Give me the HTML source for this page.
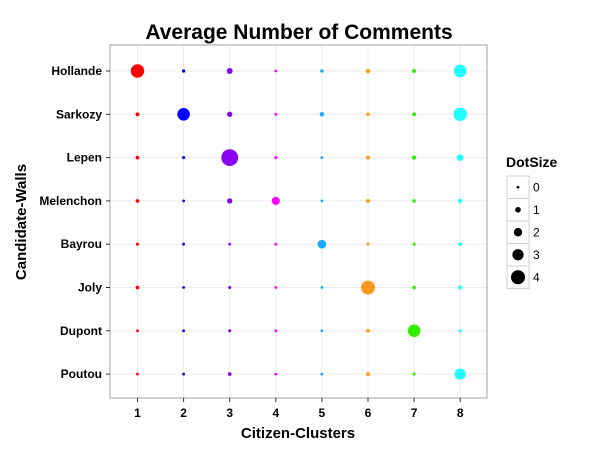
<!DOCTYPE html>
<html><head><meta charset="utf-8"><style>
body{margin:0;background:#fff}
svg{display:block;font-family:"Liberation Sans",Arial,sans-serif}
</style></head><body>
<svg id="chart" width="600" height="450" viewBox="0 0 600 450">
<rect x="0" y="0" width="600" height="450" fill="#fff"/>
<text x="299" y="39" font-size="21" font-weight="bold" text-anchor="middle">Average Number of Comments</text>
<g id="grid"></g>
<rect x="110" y="45" width="377" height="353" fill="none" stroke="#a0a0a0" stroke-width="1"/>
<g id="marks"></g>
<g id="axes"></g>
<text x="298" y="438" font-size="15" font-weight="bold" text-anchor="middle">Citizen-Clusters</text>
<text transform="translate(26,222) rotate(-90)" font-size="15" font-weight="bold" text-anchor="middle">Candidate-Walls</text>
<text x="506" y="167" font-size="14" font-weight="bold">DotSize</text>
<g id="legend"></g>
</svg>
<script>
const candidates=["Hollande","Sarkozy","Lepen","Melenchon","Bayrou","Joly","Dupont","Poutou"];
const clusters=[1,2,3,4,5,6,7,8];
const colors=["#ff0000","#0000ff","#8a00f0","#ff00ff","#1ea7ff","#ff9a1e","#33ee00","#22ffff"];
const hollande=[3.8,0.2,1.1,0,0.2,0.6,0.4,3.5];
const sarkozy=[0.4,3.5,0.9,0,0.6,0.3,0.4,3.8];
const lepen=[0.3,0.1,5,0.1,0,0.4,0.5,1.4];
const melenchon=[0.3,0,0.9,1.9,0,0.4,0.3,0.5];
const bayrou=[0.1,0,0,0,2.1,0.1,0.1,0.3];
const joly=[0.3,0,0.1,0,0,4,0.3,0.5];
const dupont=[0,0,0.1,0,0,0.3,3.5,0.1];
const poutou=[0,0,0.3,0,0,0.4,0.1,3];
const values=[hollande,sarkozy,lepen,melenchon,bayrou,joly,dupont,poutou];
const legendValues=[0,1,2,3,4];

const NS="http://www.w3.org/2000/svg";
function xs(c){return 137.5+(c-1)*46.1;}
function ys(i){return 71+i*43.3;}
function rs(v){return 1.4+1.4*v;}
function mk(t,a,parent){const e=document.createElementNS(NS,t);for(const k in a)e.setAttribute(k,a[k]);parent.appendChild(e);return e;}
const grid=document.getElementById('grid'),marks=document.getElementById('marks'),axes=document.getElementById('axes'),leg=document.getElementById('legend');
clusters.forEach(c=>{
  const l=mk('line',{x1:xs(c),x2:xs(c),y1:45,y2:398,stroke:'#ebebeb','stroke-width':1},grid);
  
  
  const t=mk('line',{x1:xs(c),x2:xs(c),y1:398,y2:402,stroke:'#333'},axes);
  
  
  const tx=mk('text',{x:xs(c),y:417,'font-size':12,'font-weight':'bold','text-anchor':'middle'},axes);
  tx.textContent=c;
  
  
});
candidates.forEach((n,i)=>{
  const l=mk('line',{x1:110,x2:487,y1:ys(i),y2:ys(i),stroke:'#ebebeb','stroke-width':1},grid);
  
  
  const t=mk('line',{x1:106,x2:110,y1:ys(i),y2:ys(i),stroke:'#333'},axes);
  
  
  const tx=mk('text',{x:102,y:ys(i)+4,'font-size':12,'font-weight':'bold','text-anchor':'end'},axes);
  tx.textContent=n;
  
  
  values[i].forEach((v,j)=>{
    const d=mk('circle',{cx:xs(clusters[j]),cy:ys(i),r:rs(v),fill:colors[j]},marks);
    
    
  });
});
legendValues.forEach((v,i)=>{
  const y=176+i*22.5;
  const b=mk('rect',{x:507,y:y,width:22,height:22.5,fill:'#fff',stroke:'#d0d0d0'},leg);
  
  
  const c=mk('circle',{cx:518,cy:y+11.25,r:rs(v),fill:'#000'},leg);
  
  
  const t=mk('text',{x:533,y:y+15.5,'font-size':12},leg);
  t.textContent=v;
  
  
});
</script>
</body></html>
